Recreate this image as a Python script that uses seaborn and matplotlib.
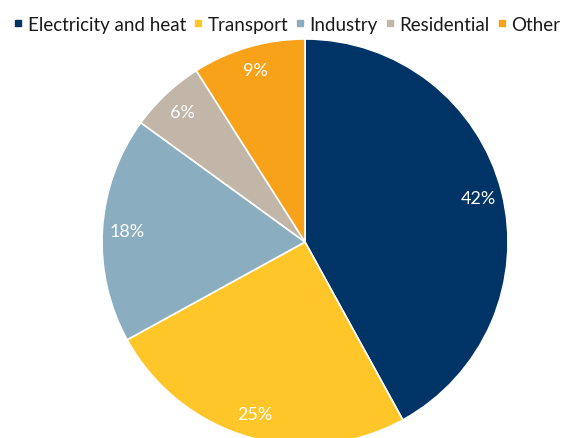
import matplotlib
matplotlib.use("Agg")
import matplotlib.pyplot as plt
from matplotlib.lines import Line2D
import seaborn as sns

sectors = ["Electricity and heat", "Transport", "Industry", "Residential", "Other"]
shares = [42, 25, 18, 6, 9]
colors = ["#003366", "#FFC629", "#8AAEBF", "#C1B6A8", "#F8A21A"]

sns.set_theme(style="white")
plt.rcParams["font.family"] = ["Lato", "DejaVu Sans"]

fig = plt.figure(figsize=(5.74, 4.39), dpi=100)
ax = fig.add_axes([0.1777, -0.0159, 0.7074, 0.9248])

wedges, texts, autotexts = ax.pie(
    shares, colors=sns.color_palette(colors), startangle=90, counterclock=False,
    autopct="%d%%", pctdistance=0.88,
    wedgeprops={"edgecolor": "white", "linewidth": 1.2},
    textprops={"color": "white", "fontsize": 13},
)
ax.set_xlim(-1, 1)
ax.set_ylim(-1, 1)
ax.set_aspect("equal")

handles = [Line2D([], [], marker="s", linestyle="", markersize=5,
                  markerfacecolor=c, markeredgecolor=c) for c in colors]
fig.legend(handles, sectors, loc="upper center", bbox_to_anchor=(0.5, 1.0),
           ncol=5, frameon=False, fontsize=13.5, handlelength=0.5,
           handletextpad=0.25, columnspacing=0.4, labelcolor="#1a1a1a")

fig.savefig("out.png", dpi=100)
